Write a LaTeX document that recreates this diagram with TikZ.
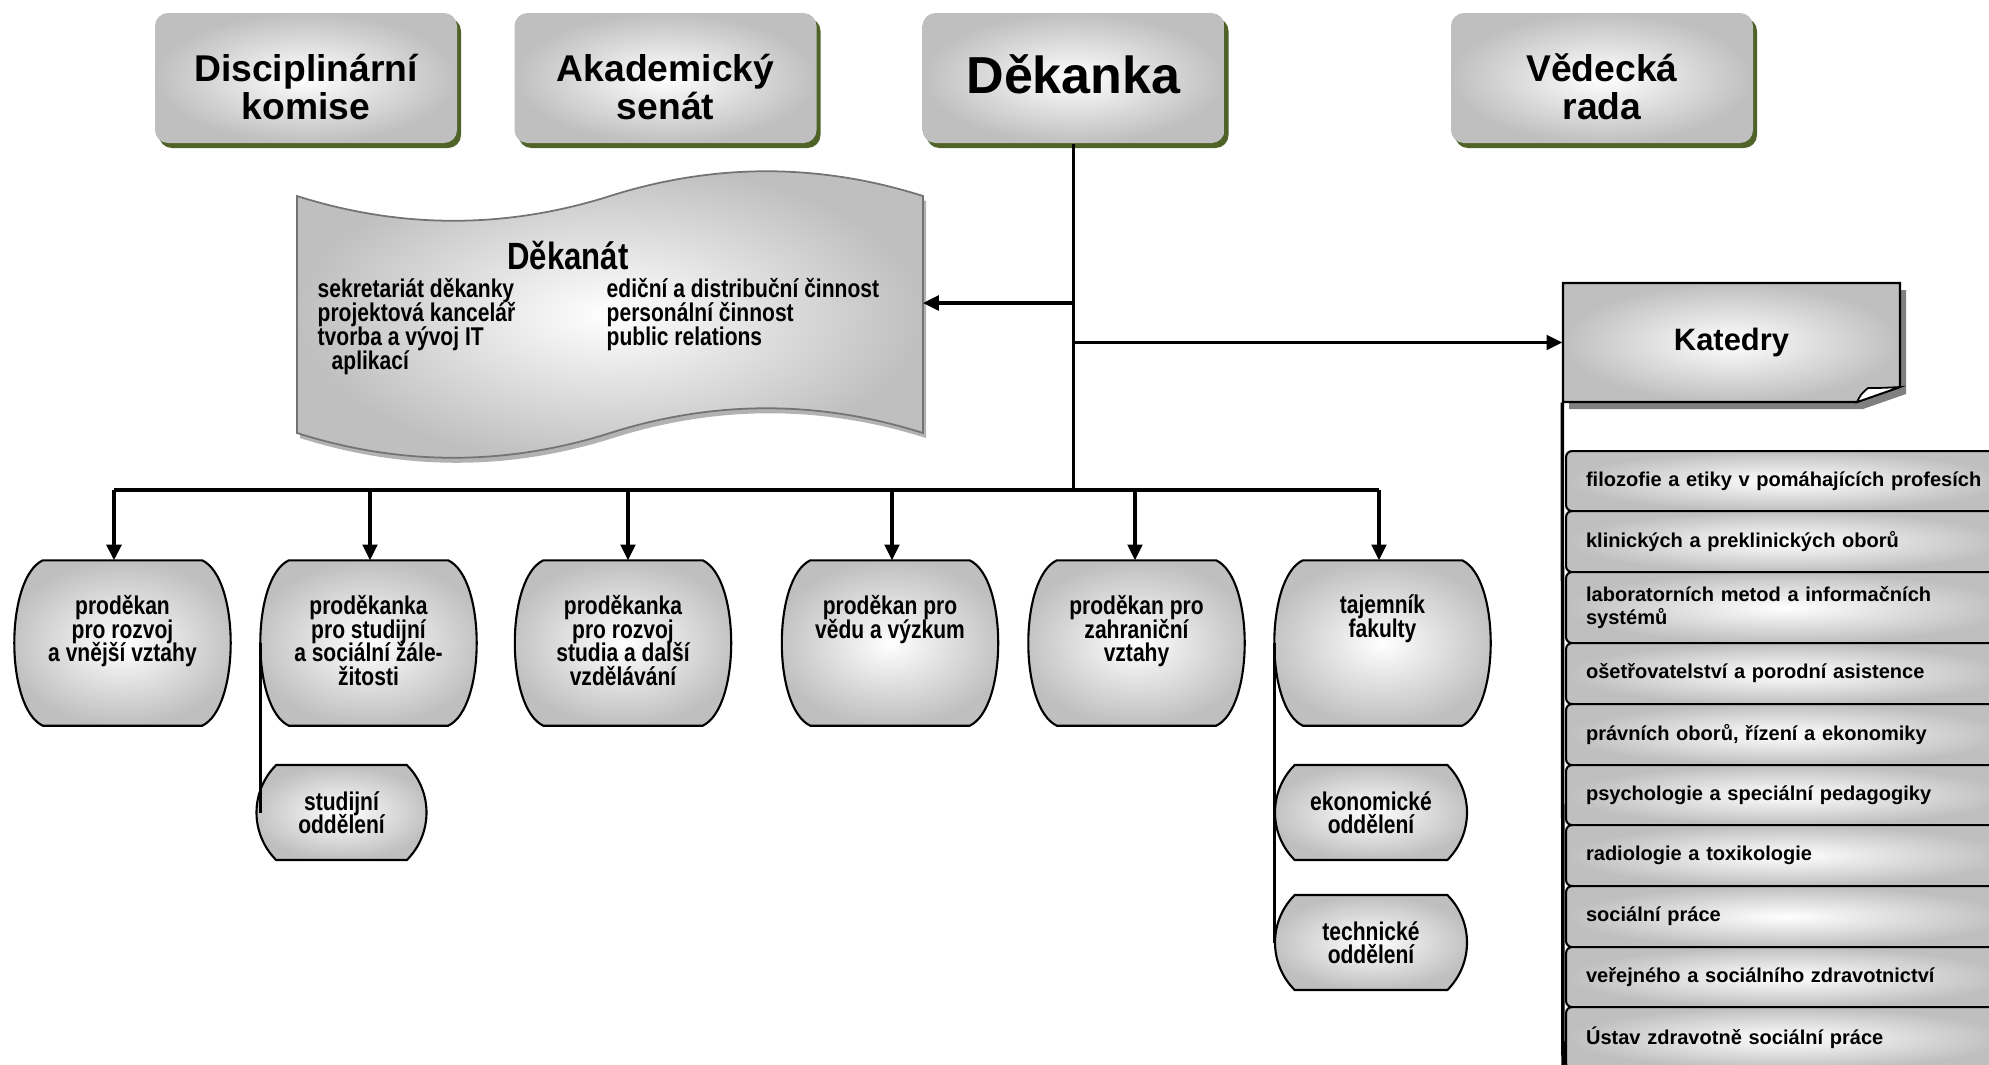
\documentclass[tikz,border=0pt]{standalone}
\usepackage{fontspec}
\setmainfont{Liberation Sans}
\newfontfamily\narrowfont[FakeStretch=0.82]{Liberation Sans}
\usetikzlibrary{calc,shapes.misc,arrows.meta,shadows}

\definecolor{olivedark}{HTML}{4F6228}
\definecolor{boxgray}{HTML}{BFBFBF}
\setlength{\lineskiplimit}{-10pt}

\tikzset{
  shade box/.style={inner color=white, outer color=boxgray},
  headbox/.style={shade box, rounded corners=0.13cm, minimum width=3.02cm,
    minimum height=1.30cm, inner sep=0pt,
    general shadow={fill=olivedark, shadow xshift=0.04cm, shadow yshift=-0.05cm}},
  headtext/.style={align=center, inner sep=0pt,
    font=\bfseries\fontsize{10.6}{10.9}\selectfont},
  lowcore/.style={minimum width=1.58cm, minimum height=1.64cm, inner sep=0pt},
  barrel/.style={shade box, draw, line width=0.6pt},
  lowtext/.style={align=center, inner sep=0pt, anchor=north,
    font=\narrowfont\bfseries\fontsize{7.3}{6.8}\selectfont},
  smallbox/.style={shade box, draw, line width=0.6pt, rounded rectangle,
    rounded rectangle arc length=90, minimum width=1.92cm, minimum height=0.95cm,
    inner sep=0pt, align=center, font=\narrowfont\bfseries\fontsize{7.3}{6.6}\selectfont},
  colbox/.style={align=left, inner sep=0pt, anchor=north west,
    font=\narrowfont\bfseries\fontsize{7.3}{6.8}\selectfont},
  listbox/.style={shade box, draw, line width=0.6pt, rounded corners=0.06cm,
    anchor=north west, minimum width=4.4cm, text width=4.0cm, inner xsep=0.2cm,
    inner ysep=0pt, align=left, font=\bfseries\fontsize{5.7}{6.5}\selectfont},
  katbox/.style={minimum width=3.37cm, minimum height=1.19cm, inner sep=0pt,
    font=\bfseries\fontsize{8.8}{10}\selectfont},
  arr/.style={-{Triangle[length=4.5pt,width=4.2pt]}, line width=0.9pt},
  thick arr/.style={arr, line width=1.4pt},
  sideline/.style={line width=0.7pt},
  tape path/.style={insert path={(2.97,-1.96) .. controls (4.01,-2.29) and (5.06,-2.29) .. (6.10,-1.96)
    .. controls (7.14,-1.63) and (8.19,-1.63) .. (9.23,-1.96) -- (9.23,-4.33)
    .. controls (8.19,-4.00) and (7.14,-4.00) .. (6.10,-4.33)
    .. controls (5.06,-4.66) and (4.01,-4.66) .. (2.97,-4.33) -- cycle}},
  kat path/.style={insert path={(15.63,-2.83) -- (19.00,-2.83) -- (19.00,-3.87)
    -- (18.57,-4.02) -- (15.63,-4.02) -- cycle}}
}

\begin{document}
\begin{tikzpicture}
  \useasboundingbox (0,0) rectangle (19.89,-10.64);

  % top row
  \foreach \n/\x/\txt in {dk/3.06/{Disciplinární\\komise}, as/6.655/{Akademický\\senát},
      vr/16.02/{Vědecká\\rada}}
  {
    \node[headbox] (\n) at (\x,-0.78) {};
    \node[headtext] (\n t) at ($(\n)+(0,-0.09)$) {\txt};
  }
  \node[headbox] (dek) at (10.735,-0.78) {};
  \node[headtext, font=\bfseries\fontsize{14.8}{16}\selectfont] (dek t) at ($(dek)+(0,0.04)$) {Děkanka};

  % dekanat
  \fill[black!30, shift={(0.03,-0.05)}, tape path];
  \path[shade box, draw=black!55, line width=0.5pt, tape path];
  \node[inner sep=0pt, font=\narrowfont\bfseries\fontsize{10.8}{12}\selectfont] (dkn) at (5.68,-2.55) {Děkanát};
  \node[colbox] (dl) at (3.17,-2.78) {sekretariát děkanky\\projektová kancelář\\tvorba a vývoj IT\\\hspace*{0.14cm}aplikací};
  \node[colbox] (dr) at (6.06,-2.78) {ediční a distribuční činnost\\personální činnost\\public relations};
  \coordinate (dekE) at (9.23,-3.03);

  % katedry
  \fill[black!50, shift={(0.06,-0.07)}, kat path];
  \path[shade box, draw, line width=0.6pt, kat path];
  \filldraw[fill=white, line width=0.5pt] (18.57,-4.02) .. controls (18.61,-3.94) .. (18.68,-3.88)
    .. controls (18.80,-3.88) .. (19.00,-3.87) -- cycle;
  \node[katbox] (kat) at (17.315,-3.425) {Katedry};

  \foreach \y/\h/\txt [count=\i] in {
      4.50/0.60/{filozofie a etiky v pomáhajících profesích},
      5.10/0.61/{klinických a preklinických oborů},
      5.71/0.71/{laboratorních metod a informačních\\systémů},
      6.42/0.61/{ošetřovatelství a porodní asistence},
      7.03/0.61/{právních oborů, řízení a ekonomiky},
      7.64/0.60/{psychologie a speciální pedagogiky},
      8.24/0.61/{radiologie a toxikologie},
      8.85/0.61/{sociální práce},
      9.46/0.60/{veřejného a sociálního zdravotnictví},
      10.06/0.62/{Ústav zdravotně sociální práce}}
    \node[listbox, minimum height=\h cm] (k\i) at (15.65,-\y) {\txt};

  \coordinate (kbot) at (15.63,-10.70);
  \draw[line width=1pt] (kat.south west) -- (kbot);

  % lower row
  \foreach \n/\x/\txt in {
      pd1/1.225/{proděkan\\pro rozvoj\\a vnější vztahy},
      pd2/3.685/{proděkanka\\pro studijní\\a sociální žále-\\žitosti},
      pd3/6.23/{proděkanka\\pro rozvoj\\studia a další\\vzdělávání},
      pd4/8.90/{proděkan pro\\vědu a výzkum},
      pd5/11.365/{proděkan pro\\zahraniční\\vztahy},
      taj/13.825/{tajemník\\fakulty}}
  {
    \node[lowcore] (\n) at (\x,-6.43) {};
    \path[barrel] (\n.north west) -- (\n.north east)
      .. controls +(0.38,-0.18) and +(0.38,0.18) .. (\n.south east) -- (\n.south west)
      .. controls +(-0.38,0.18) and +(-0.38,-0.18) .. (\n.north west) -- cycle;
    \node[lowtext] (\n t) at ($(\n.north)+(0,-0.34)$) {\txt};
  }

  \node[smallbox, minimum width=1.70cm] (so) at (3.415,-8.125) {studijní\\oddělení};
  \node[smallbox] (eo) at (13.71,-8.125) {ekonomické\\oddělení};
  \node[smallbox] (to) at (13.71,-9.425) {technické\\oddělení};

  \draw[sideline] ($(pd2.west)+(-0.285,0)$) coordinate (s1) -- (s1 |- so.west);
  \draw[sideline] ($(taj.west)+(-0.285,0)$) coordinate (s2) -- (s2 |- to.west);

  % connectors
  \coordinate (b1) at (1.14,-4.90);
  \coordinate (b2) at (3.70,-4.90);
  \coordinate (b3) at (6.28,-4.90);
  \coordinate (b4) at (8.92,-4.90);
  \coordinate (b5) at (11.35,-4.90);
  \coordinate (b6) at (13.79,-4.90);

  \draw[line width=1pt] (dek.south) -- (dek.south |- b1);
  \draw[line width=1.4pt] (b1) -- (dek.south |- b1);
  \draw[line width=0.9pt] (dek.south |- b1) -- (b6);
  \draw[thick arr] (b1) -- (b1 |- pd1.north);
  \draw[arr] (b2) -- (b2 |- pd2.north);
  \draw[arr] (b3) -- (b3 |- pd3.north);
  \draw[arr] (b4) -- (b4 |- pd4.north);
  \draw[arr] (b5) -- (b5 |- pd5.north);
  \draw[arr] (b6) -- (b6 |- taj.north);

  \draw[arr] (dek.south |- dekE) -- (dekE);
  \draw[arr] (dek.south |- kat.west) -- (kat.west);
\end{tikzpicture}
\end{document}
